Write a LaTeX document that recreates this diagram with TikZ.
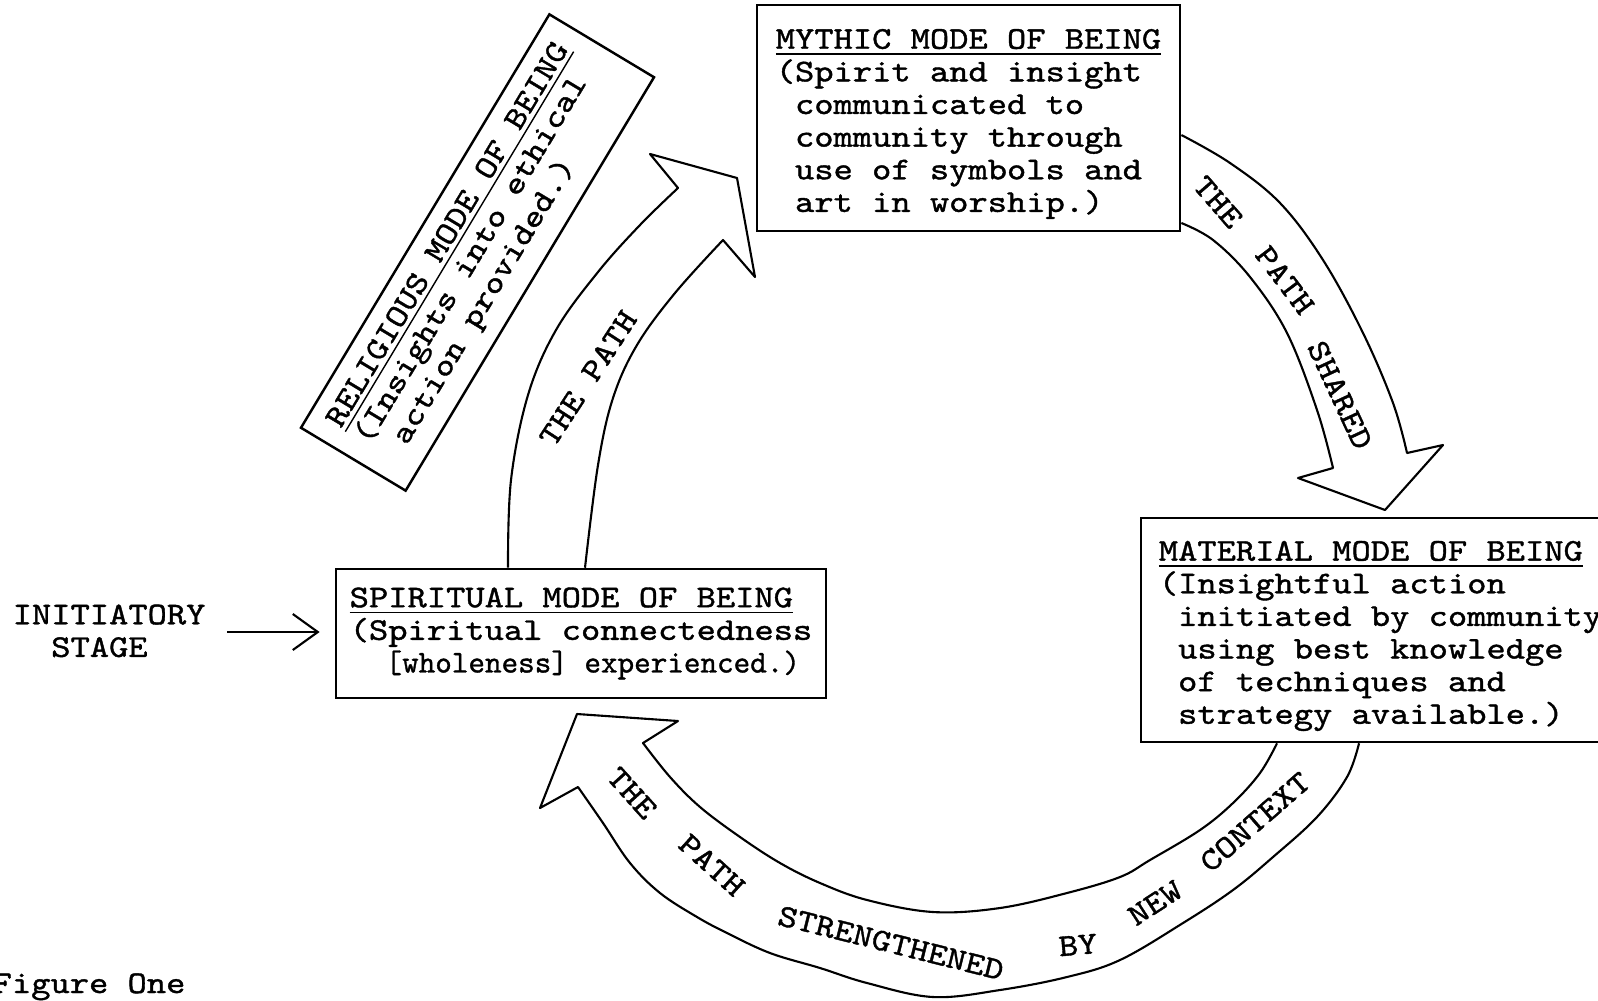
\documentclass[tikz,border=0pt]{standalone}
\usepackage{fontspec}
\setmonofont{lmmono10-regular.otf}[FakeStretch=1.16, FakeBold=1.2]
\usepackage{graphicx}
\usetikzlibrary{arrows.meta}
\newcommand{\ind}{\phantom{(}}
\newcommand{\toppad}{\rule{0pt}{9pt}}
\tikzset{
  modebox/.style={draw, line width=0.7pt, align=left, inner sep=0pt},
  pathword/.style={inner sep=0pt},
  bigarrow/.style={line width=0.6pt, line join=round}
}

\begin{document}
\begin{tikzpicture}[x=0.01cm, y=-0.01cm, font=\ttfamily\fontsize{9}{9.28}\selectfont]
\useasboundingbox (0,0) rectangle (1598,1000);

\node[modebox, minimum width=4.9cm, minimum height=1.29cm] (SP) at (581,633.5) {\underline{SPIRITUAL MODE OF BEING}\\(Spiritual connectedness\\\ind\scalebox{0.86}[1]{\ind[wholeness] experienced.)}};
\node[modebox, minimum width=4.23cm, minimum height=2.26cm] (MY) at (968.5,118) {\toppad\underline{MYTHIC MODE OF BEING}\\(Spirit and insight\\\ind communicated to\\\ind community through\\\ind use of symbols and\\\ind art in worship.)};
\node[modebox, minimum width=4.79cm, minimum height=2.24cm] (MA) at (1380.5,630) {\toppad\underline{MATERIAL MODE OF BEING}\\(Insightful action\\\ind initiated by community\\\ind using best knowledge\\\ind of techniques and\\\ind strategy available.)};
\node[modebox, rotate=59, minimum width=4.82cm, minimum height=1.22cm] (RE) at (477.5,252.5) {\underline{RELIGIOUS MODE OF BEING}\\(Insights into ethical\\\ind action provided.)};

\node[align=left, inner sep=0pt, anchor=west] (IN) at (12,632) {INITIATORY\\\phantom{((}STAGE};
\node[anchor=base west, inner sep=0pt] (FG) at (-8,993) {Figure One};

\draw[line width=0.6pt, -{Straight Barb[length=2.5mm, width=3.6mm]}, shorten <=0.21cm, shorten >=0.15cm] (IN.east) -- (IN.east -| SP.west);

\coordinate (LA1) at (508,0 |- SP.north);
\coordinate (LA2) at (585,0 |- SP.north);
\draw[bigarrow] plot[smooth, tension=0.6] coordinates {(LA1) (511,480) (528,395) (556,330) (598,272) (640,225) (678,188)} -- (650,154) -- (737,178) -- (755,277) -- (723,240) -- plot[smooth, tension=0.6] coordinates {(723,240) (675,293) (637,345) (613,398) (598,465) (LA2)};

\coordinate (RA1) at (MY.east |- 0,135);
\coordinate (RA2) at (MY.east |- 0,223);
\draw[bigarrow] plot[smooth, tension=0.6] coordinates {(RA1) (1230,163) (1280,203) (1323,260) (1363,333) (1393,403) (1407,453)} -- (1443,445) -- (1385,510) -- (1298,478) -- (1333,468) -- plot[smooth, tension=0.6] coordinates {(1333,468) (1317,410) (1287,333) (1250,277) (1213,240) (RA2)};

\coordinate (BA1) at (1359,0 |- MA.south);
\coordinate (BA2) at (1277,0 |- MA.south);
\draw[bigarrow] plot[smooth, tension=0.6] coordinates {(BA1) (1347,777) (1317,817) (1273,857) (1233,890) (1183,923) (1120,960) (1067,977) (1000,990) (933,997) (867,983) (820,968) (770,953) (727,933) (697,917) (660,893) (630,863) (603,823) (578,787)} -- (540,808) -- (577,714) -- (678,721) -- (643,743) -- plot[smooth, tension=0.6] coordinates {(643,743) (670,777) (700,807) (740,837) (780,863) (820,883) (867,900) (933,912) (1000,908) (1067,893) (1120,877) (1150,860) (1200,830) (1233,803) (1260,773) (BA2)};

\node[pathword, rotate=57] (L1) at (588,378) {THE PATH};
\node[pathword, rotate=-49] (R1) at (1218,202) {THE};
\node[pathword, rotate=-53] (R2) at (1285,280) {PATH};
\node[pathword, rotate=-65] (R3) at (1340,395) {SHARED};
\node[pathword, rotate=-48] (B1) at (632,793) {THE};
\node[pathword, rotate=-42] (B2) at (712,865) {PATH};
\node[pathword, rotate=-14] (B3) at (891,943) {STRENGTHENED};
\node[pathword, rotate=5] (B4) at (1078,945) {BY};
\node[pathword, rotate=33] (B5) at (1155,903) {NEW};
\node[pathword, rotate=41] (B6) at (1255,822) {CONTEXT};
\end{tikzpicture}
\end{document}
